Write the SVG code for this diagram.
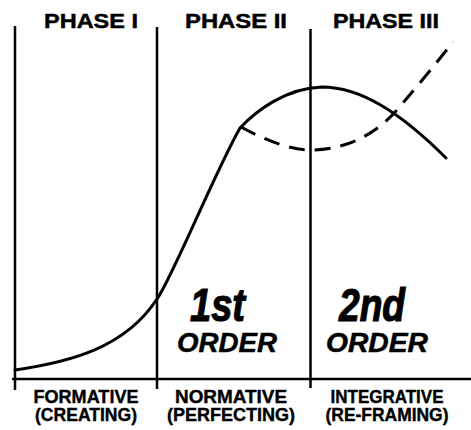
<svg xmlns="http://www.w3.org/2000/svg" width="471" height="430" viewBox="0 0 471 430">
<style>
.ln{stroke:#000;stroke-width:2.5;fill:none}
.cv{stroke:#000;stroke-width:3;fill:none;stroke-linecap:round;stroke-linejoin:round}
.ds{stroke:#000;stroke-width:3;fill:none;stroke-dasharray:16 10}
.hd{font-family:"Liberation Sans",Arial,sans-serif;font-weight:bold;font-size:21px;fill:#000;stroke:#000;stroke-width:0.5}
.lb{font-family:"Liberation Sans",Arial,sans-serif;font-weight:bold;font-size:18px;fill:#000;text-anchor:middle;stroke:#000;stroke-width:0.4}
.big{font-family:"Liberation Sans",Arial,sans-serif;font-weight:bold;font-style:italic;font-size:46px;fill:#000;stroke:#000;stroke-width:1.2}
.ord{font-family:"Liberation Sans",Arial,sans-serif;font-weight:bold;font-style:italic;font-size:27px;fill:#000;stroke:#000;stroke-width:0.5}
</style>
<rect width="471" height="430" fill="#fff"/>
<g id="axes">
<line class="ln" x1="15" y1="26" x2="15" y2="390"/>
<line class="ln" x1="157" y1="27" x2="157" y2="389"/>
<line class="ln" x1="310.5" y1="29" x2="310.5" y2="388"/>
<line class="ln" x1="12" y1="379" x2="471" y2="379"/>
</g>
<g id="connectors">
<path class="cv" d="M15,370 C70,362 125,348 157,299 C172,278 215,172 240,128 C255,112 285,88 322,87 C360,87 400,112 446,158"/>
<path class="ds" d="M241,127 C265,140 290,150 310,150 C345,150 375,135 396,111 C410,95 435,65 453,42"/>
</g>
<g id="phase1">
<text class="hd" x="44" y="28" textLength="94" lengthAdjust="spacingAndGlyphs">PHASE I</text>
<text class="lb" x="86" y="403" textLength="105" lengthAdjust="spacingAndGlyphs">FORMATIVE</text>
<text class="lb" x="86" y="421" textLength="102" lengthAdjust="spacingAndGlyphs">(CREATING)</text>
</g>
<g id="phase2">
<text class="hd" x="185" y="28" textLength="102" lengthAdjust="spacingAndGlyphs">PHASE II</text>
<text class="big" x="190" y="321" textLength="55" lengthAdjust="spacingAndGlyphs">1st</text>
<text class="ord" x="177" y="352" textLength="100" lengthAdjust="spacingAndGlyphs">ORDER</text>
<text class="lb" x="231" y="403" textLength="112" lengthAdjust="spacingAndGlyphs">NORMATIVE</text>
<text class="lb" x="231" y="421" textLength="128" lengthAdjust="spacingAndGlyphs">(PERFECTING)</text>
</g>
<g id="phase3">
<text class="hd" x="333" y="28" textLength="106" lengthAdjust="spacingAndGlyphs">PHASE III</text>
<text class="big" x="339" y="321" textLength="66" lengthAdjust="spacingAndGlyphs">2nd</text>
<text class="ord" x="326" y="352" textLength="102" lengthAdjust="spacingAndGlyphs">ORDER</text>
<text class="lb" x="387" y="403" textLength="113" lengthAdjust="spacingAndGlyphs">INTEGRATIVE</text>
<text class="lb" x="387" y="421" textLength="123" lengthAdjust="spacingAndGlyphs">(RE-FRAMING)</text>
</g>
</svg>
